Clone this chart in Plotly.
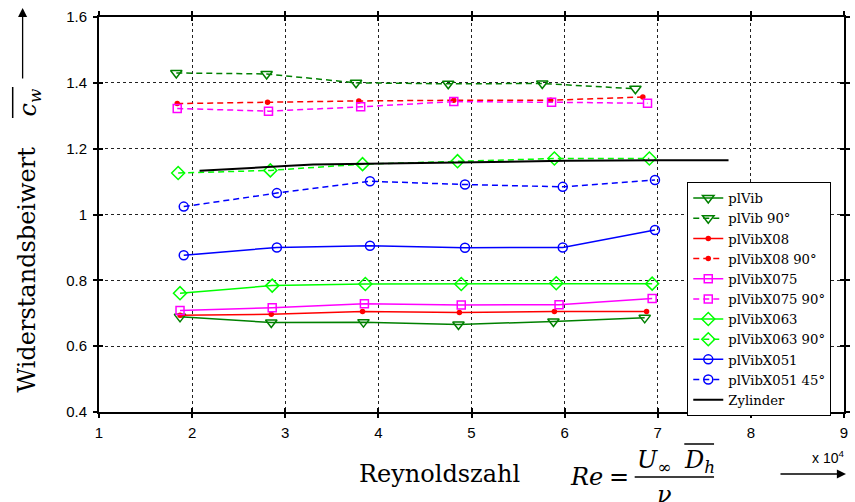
import plotly.graph_objects as go

# ---------------- data ----------------
plVib_x = [1.87, 2.85, 3.84, 4.86, 5.88, 6.86]
plVib_y = [0.689, 0.672, 0.673, 0.666, 0.675, 0.686]
plVib90_x = [1.83, 2.80, 3.76, 4.75, 5.76, 6.76]
plVib90_y = [1.430, 1.427, 1.400, 1.397, 1.398, 1.382]
X08_x = [1.87, 2.85, 3.83, 4.87, 5.89, 6.88]
X08_y = [0.694, 0.697, 0.705, 0.702, 0.705, 0.705]
X08_90_x = [1.84, 2.81, 3.79, 4.81, 5.85, 6.84]
X08_90_y = [1.337, 1.341, 1.345, 1.347, 1.347, 1.357]
X075_x = [1.87, 2.86, 3.85, 4.89, 5.94, 6.94]
X075_y = [0.708, 0.717, 0.729, 0.725, 0.726, 0.745]
X075_90_x = [1.84, 2.82, 3.81, 4.81, 5.86, 6.89]
X075_90_y = [1.322, 1.314, 1.327, 1.343, 1.341, 1.338]
X063_x = [1.87, 2.86, 3.86, 4.89, 5.91, 6.94]
X063_y = [0.761, 0.784, 0.789, 0.789, 0.791, 0.790]
X063_90_x = [1.85, 2.84, 3.83, 4.85, 5.89, 6.91]
X063_90_y = [1.126, 1.134, 1.153, 1.162, 1.170, 1.170]
X051_x = [1.91, 2.91, 3.91, 4.93, 5.98, 6.97]
X051_y = [0.876, 0.900, 0.905, 0.899, 0.900, 0.953]
X051_45_x = [1.91, 2.91, 3.91, 4.93, 5.98, 6.97]
X051_45_y = [1.024, 1.065, 1.101, 1.091, 1.084, 1.105]
Zyl_x = [2.08, 2.6, 3.0, 3.3, 4.0, 5.0, 6.0, 7.0, 7.76]
Zyl_y = [1.133, 1.140, 1.147, 1.152, 1.155, 1.159, 1.163, 1.165, 1.165]

x_ticks = [1, 2, 3, 4, 5, 6, 7, 8, 9]
x_labels = ["1", "2", "3", "4", "5", "6", "7", "8", "9"]
y_ticks = [0.4, 0.6, 0.8, 1.0, 1.2, 1.4, 1.6]
y_labels = ["0.4", "0.6", "0.8", "1", "1.2", "1.4", "1.6"]

DGREEN = "#008000"
LIME = "#00ff00"
RED = "#ff0000"
MAG = "#ff00ff"
BLUE = "#0000ff"
DASH = "6px,4px"

W, H = 855, 502
L, R, T, B = 99, 850, 17, 412


def px(xp):
    return (xp - L) / (R - L)


def py(yp):
    return (B - yp) / (B - T)


series = [
    ("plVib", plVib_x, plVib_y, DGREEN, "solid", "triangle-down-open", 10),
    ("plVib 90°", plVib90_x, plVib90_y, DGREEN, DASH, "triangle-down-open", 10),
    ("plVibX08", X08_x, X08_y, RED, "solid", "circle", 4),
    ("plVibX08 90°", X08_90_x, X08_90_y, RED, DASH, "circle", 4),
    ("plVibX075", X075_x, X075_y, MAG, "solid", "square-open", 8),
    ("plVibX075 90°", X075_90_x, X075_90_y, MAG, DASH, "square-open", 8),
    ("plVibX063", X063_x, X063_y, LIME, "solid", "diamond-open", 10),
    ("plVibX063 90°", X063_90_x, X063_90_y, LIME, DASH, "diamond-open", 10),
    ("plVibX051", X051_x, X051_y, BLUE, "solid", "circle-open", 9),
    ("plVibX051 45°", X051_45_x, X051_45_y, BLUE, DASH, "circle-open", 9),
]

fig = go.Figure()
for name, xs, ys, col, dash, sym, size in series:
    fig.add_trace(go.Scatter(
        x=xs, y=ys, name=name, mode="lines+markers",
        line=dict(color=col, width=1.5, dash=dash),
        marker=dict(symbol=sym, size=size, color=col, line=dict(color=col, width=1.5)),
    ))
fig.add_trace(go.Scatter(x=Zyl_x, y=Zyl_y, name="Zylinder", mode="lines",
                         line=dict(color="black", width=2)))
# invisible trace for the inner-tick overlay axes
fig.add_trace(go.Scatter(x=[1], y=[0.4], xaxis="x2", yaxis="y2", mode="markers",
                         marker=dict(opacity=0), showlegend=False, hoverinfo="skip"))

tickfont = dict(family="Liberation Sans", size=15, color="black")
axis_common = dict(showline=True, linecolor="black", linewidth=2, mirror="ticks",
                   ticks="outside", ticklen=4, tickwidth=1.5, tickcolor="black",
                   zeroline=False)

fig.update_layout(
    width=W, height=H,
    margin=dict(l=L, r=W - R, t=T, b=H - B),
    plot_bgcolor="white", paper_bgcolor="white",
    showlegend=True,
    xaxis=dict(range=[1, 9], tickvals=x_ticks, ticktext=x_labels, tickfont=tickfont,
               showgrid=True, gridcolor="#222", griddash="dot", gridwidth=1,
               ticklabelstandoff=2, **axis_common),
    yaxis=dict(range=[0.4, 1.6], tickvals=y_ticks, ticktext=y_labels, tickfont=tickfont,
               showgrid=True, gridcolor="#222", griddash="dot", gridwidth=1,
               ticklabelstandoff=3, **axis_common),
    xaxis2=dict(range=[1, 9], tickvals=x_ticks, overlaying="x", side="bottom",
                showticklabels=False, showgrid=False, showline=False, mirror="ticks",
                ticks="inside", ticklen=4, tickwidth=1.5, tickcolor="black", zeroline=False),
    yaxis2=dict(range=[0.4, 1.6], tickvals=y_ticks, overlaying="y", side="left",
                showticklabels=False, showgrid=False, showline=False, mirror="ticks",
                ticks="inside", ticklen=4, tickwidth=1.5, tickcolor="black", zeroline=False),
    legend=dict(x=px(692), y=py(182), xanchor="left", yanchor="top",
                bgcolor="white", bordercolor="black", borderwidth=1,
                font=dict(family="DejaVu Serif", size=13.2, color="black"),
                tracegroupgap=0),
)

serif = "DejaVu Serif"
ann = [
    # y-axis title
    dict(x=px(26), y=py(270), text="Widerstandsbeiwert", textangle=-90,
         font=dict(family=serif, size=24, color="black")),
    dict(x=px(28), y=py(103), text="<i>c</i><sub><i>w</i></sub>", textangle=-90,
         font=dict(family=serif, size=24, color="black")),
    # x-axis title
    dict(x=px(442), y=py(474), text="Reynoldszahl",
         font=dict(family=serif, size=24, color="black")),
    dict(x=px(590), y=py(477), text="<i>Re</i>",
         font=dict(family=serif, size=24, color="black")),
    dict(x=px(623), y=py(477), text="=",
         font=dict(family=serif, size=24, color="black")),
    dict(x=px(658), y=py(461), text="<i>U</i><sub>∞</sub>",
         font=dict(family=serif, size=24, color="black")),
    dict(x=px(704), y=py(461), text="<i>D</i><sub><i>h</i></sub>",
         font=dict(family=serif, size=24, color="black")),
    dict(x=px(669), y=py(495), text="<i>ν</i>",
         font=dict(family=serif, size=24, color="black")),
    dict(x=px(834), y=py(457), text="x 10<sup>4</sup>",
         font=dict(family="Liberation Sans", size=14, color="black")),
]
for a in ann:
    a.update(xref="paper", yref="paper", showarrow=False,
             xanchor="center", yanchor="middle")
fig.update_layout(annotations=ann)

# arrows
fig.add_annotation(x=px(22), y=py(8), xref="paper", yref="paper", text="",
                   showarrow=True, ax=0, ay=72, arrowhead=2, arrowsize=1.4,
                   arrowwidth=1.3, arrowcolor="black")
fig.add_annotation(x=px(852), y=py(474), xref="paper", yref="paper", text="",
                   showarrow=True, ax=-67, ay=0, arrowhead=2, arrowsize=1.4,
                   arrowwidth=1.3, arrowcolor="black")

# overlines and fraction bar
shapes = [
    dict(type="line", xref="paper", yref="paper", x0=px(12), x1=px(12), y0=py(87), y1=py(118),
         line=dict(color="black", width=1.5)),
    dict(type="line", xref="paper", yref="paper", x0=px(689), x1=px(719), y0=py(444), y1=py(444),
         line=dict(color="black", width=1.5)),
    dict(type="line", xref="paper", yref="paper", x0=px(639), x1=px(719), y0=py(477), y1=py(477),
         line=dict(color="black", width=1.5)),
]
fig.update_layout(shapes=shapes)

fig.write_html("out.html")
